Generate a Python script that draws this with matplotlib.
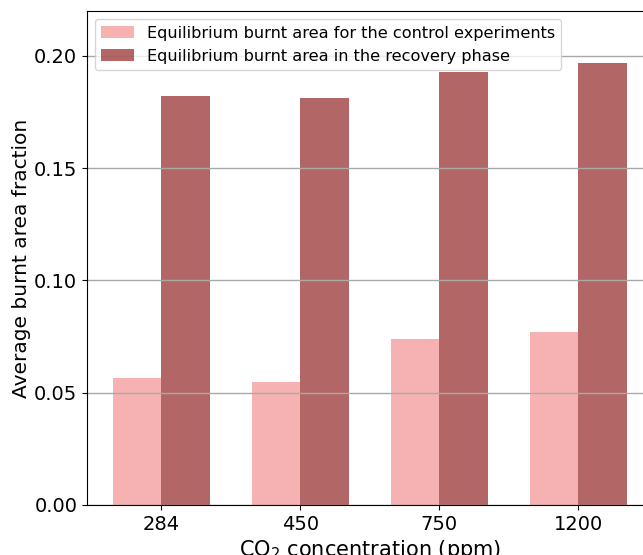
import matplotlib
matplotlib.use("Agg")
import matplotlib.pyplot as plt
import numpy as np

co2_levels = ["284", "450", "750", "1200"]
control_burnt = [0.0567, 0.0548, 0.0739, 0.0771]
recovery_burnt = [0.1822, 0.1813, 0.1927, 0.1968]

x = np.arange(len(co2_levels))
width = 0.35

fig = plt.figure(figsize=(6.43, 5.55), dpi=100)
# the reference is cropped on the right, so the axes run past the figure edge
ax = fig.add_axes([0.1353, 0.0901, 0.880, 0.890])

ax.bar(x - width / 2, control_burnt, width, color="lightcoral", alpha=0.6,
       label="Equilibrium burnt area for the control experiments")
ax.bar(x + width / 2, recovery_burnt, width, color="maroon", alpha=0.6,
       label="Equilibrium burnt area in the recovery phase")

ax.set_xticks(x)
ax.set_xticklabels(co2_levels)
ax.set_xlim(-0.535, 3.535)
ax.set_ylim(0, 0.22)
ax.set_yticks([0.0, 0.05, 0.10, 0.15, 0.20])
ax.tick_params(labelsize=14)
ax.yaxis.grid(True, color="darkgray", linewidth=1)
ax.set_xlabel("CO$_2$ concentration (ppm)", fontsize=15, labelpad=3)
ax.set_ylabel("Average burnt area fraction", fontsize=14.5, labelpad=2)
ax.legend(loc="upper left", fontsize=11.6)

fig.savefig("out.png", dpi=100)
